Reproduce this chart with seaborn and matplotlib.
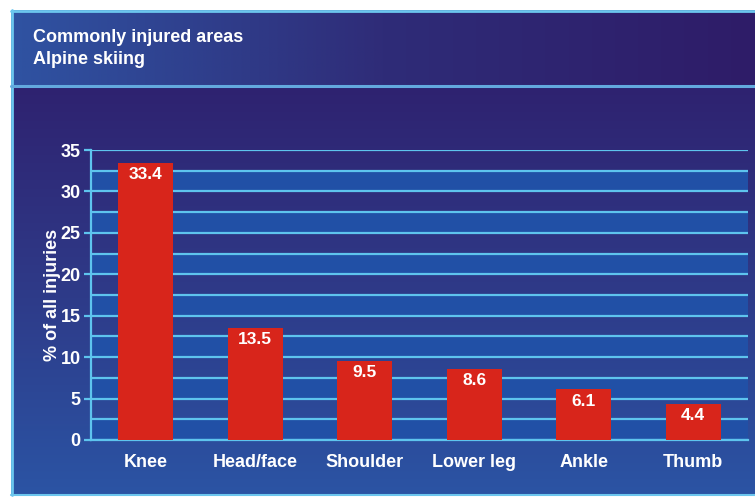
import numpy as np
import pandas as pd
import matplotlib
matplotlib.use("Agg")
import matplotlib.pyplot as plt
import seaborn as sns
from matplotlib.colors import LinearSegmentedColormap

categories = ["Knee", "Head/face", "Shoulder", "Lower leg", "Ankle", "Thumb"]
values = [33.4, 13.5, 9.5, 8.6, 6.1, 4.4]
title_lines = ["Commonly injured areas", "Alpine skiing"]
ylabel = "% of all injuries"
yticks = [0, 5, 10, 15, 20, 25, 30, 35]

df = pd.DataFrame({"area": categories, "pct": values})

sns.set_theme(style="white")
plt.rcParams["font.family"] = ["Liberation Sans", "DejaVu Sans"]

W, H = 755, 497
fig = plt.figure(figsize=(W / 100, H / 100), dpi=100)
fig.patch.set_facecolor("white")

# background decoration
bg = fig.add_axes([0, 0, 1, 1])
bg.set_xlim(0, W)
bg.set_ylim(H, 0)
bg.axis("off")
title_cmap = LinearSegmentedColormap.from_list("t", ["#2f53a2", "#2f2c78", "#2e1c68"])
bg.imshow(np.linspace(0, 1, 256)[None, :], cmap=title_cmap, aspect="auto",
          extent=(11, W, 85, 10), zorder=1)
panel_cmap = LinearSegmentedColormap.from_list("p", ["#2f2270", "#2e3a88", "#2b54a4"])
bg.imshow(np.linspace(0, 1, 256)[:, None], cmap=panel_cmap, aspect="auto",
          extent=(11, W, 495, 86), zorder=1)
edge = "#6cc6ee"
bg.plot([12, 12], [10, 495], color=edge, lw=2, zorder=2)
bg.plot([11, W], [10.5, 10.5], color=edge, lw=2, zorder=2)
bg.plot([11, W], [494.5, 494.5], color=edge, lw=1.5, zorder=2)
bg.plot([11, W], [85.5, 85.5], color="#63a9de", lw=2.2, zorder=2)

bg.text(33, 37, title_lines[0], color="white", fontsize=13, fontweight="bold",
        va="center", ha="left", zorder=3)
bg.text(33, 60, title_lines[1], color="white", fontsize=13, fontweight="bold",
        va="center", ha="left", zorder=3)

# main axes
ax = fig.add_axes([91 / W, 1 - 440 / H, (748 - 91) / W, (440 - 150) / H])
ax.patch.set_alpha(0)

for lo in np.arange(0, 35, 5):
    ax.axhspan(lo, lo + 2.5, color="#2150a6", zorder=0, lw=0)

grid_c = "#5ec4ee"
for g in np.arange(0, 35.1, 2.5):
    ax.axhline(g, color=grid_c, lw=1.6, zorder=1)

sns.barplot(data=df, x="area", y="pct", color="#d8251b", saturation=1,
            width=0.5, ax=ax, zorder=3, linewidth=0, edgecolor="none")

for bar, v in zip(ax.containers[0], values):
    ax.annotate(f"{v}", (bar.get_x() + bar.get_width() / 2, bar.get_height()),
                xytext=(0, -3), textcoords="offset points", ha="center", va="top",
                color="white", fontsize=12.5, fontweight="bold", zorder=4)

ax.set_xlim(-0.5, len(categories) - 0.5)
ax.set_ylim(0, 35)
ax.set_yticks(yticks)
ax.set_yticklabels([str(t) for t in yticks])
ax.set_xticks(range(len(categories)))
ax.set_xticklabels(categories)
ax.set_xticks(np.arange(-0.5, len(categories), 1.0), minor=True)
ax.tick_params(axis="x", which="major", length=0, pad=10, colors="white",
               labelsize=13)
ax.tick_params(axis="x", which="minor", length=5, width=1.6, color=grid_c,
               direction="out")
ax.tick_params(axis="y", which="major", length=5, width=1.6, color=grid_c,
               colors="white", labelsize=13, pad=2.5, left=True)
ax.yaxis.set_tick_params(color=grid_c)
for lab in ax.get_xticklabels() + ax.get_yticklabels():
    lab.set_fontweight("bold")
    lab.set_color("white")

ax.set_xlabel("")
ax.set_ylabel(ylabel, color="white", fontsize=13, fontweight="bold")
ax.yaxis.set_label_coords(-0.046, 0.5)

for s in ["top", "right"]:
    ax.spines[s].set_visible(False)
ax.spines["left"].set_color(grid_c)
ax.spines["left"].set_linewidth(1.6)
ax.spines["bottom"].set_color(grid_c)
ax.spines["bottom"].set_linewidth(1.6)

fig.savefig("out.png", dpi=100)
